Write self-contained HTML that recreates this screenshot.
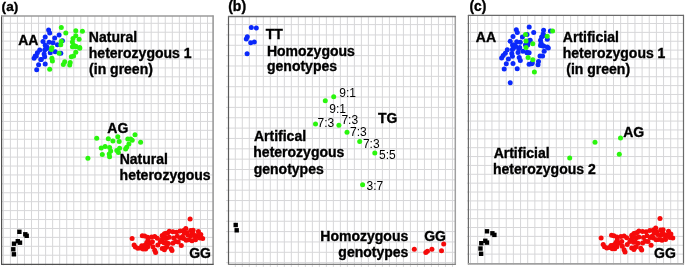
<!DOCTYPE html>
<html><head><meta charset="utf-8"><style>
html,body{margin:0;padding:0;background:#fff;width:685px;height:270px;overflow:hidden;position:relative}
text{font-family:"Liberation Sans",sans-serif}
svg{will-change:transform}
</style></head><body>
<svg width="685" height="270" viewBox="0 0 685 270" style="position:absolute;left:0;top:0">
<rect width="685" height="270" fill="#fff"/>
<g stroke="#d7d7d9" stroke-width="1" fill="none">
<line x1="3.36" y1="16.00" x2="3.36" y2="265.30"/>
<line x1="10.40" y1="16.00" x2="10.40" y2="265.30"/>
<line x1="17.44" y1="16.00" x2="17.44" y2="265.30"/>
<line x1="24.48" y1="16.00" x2="24.48" y2="265.30"/>
<line x1="31.52" y1="16.00" x2="31.52" y2="265.30"/>
<line x1="38.56" y1="16.00" x2="38.56" y2="265.30"/>
<line x1="45.60" y1="16.00" x2="45.60" y2="265.30"/>
<line x1="52.64" y1="16.00" x2="52.64" y2="265.30"/>
<line x1="59.68" y1="16.00" x2="59.68" y2="265.30"/>
<line x1="66.72" y1="16.00" x2="66.72" y2="265.30"/>
<line x1="73.76" y1="16.00" x2="73.76" y2="265.30"/>
<line x1="80.80" y1="16.00" x2="80.80" y2="265.30"/>
<line x1="87.84" y1="16.00" x2="87.84" y2="265.30"/>
<line x1="94.88" y1="16.00" x2="94.88" y2="265.30"/>
<line x1="101.92" y1="16.00" x2="101.92" y2="265.30"/>
<line x1="108.96" y1="16.00" x2="108.96" y2="265.30"/>
<line x1="116.00" y1="16.00" x2="116.00" y2="265.30"/>
<line x1="123.04" y1="16.00" x2="123.04" y2="265.30"/>
<line x1="130.08" y1="16.00" x2="130.08" y2="265.30"/>
<line x1="137.12" y1="16.00" x2="137.12" y2="265.30"/>
<line x1="144.16" y1="16.00" x2="144.16" y2="265.30"/>
<line x1="151.20" y1="16.00" x2="151.20" y2="265.30"/>
<line x1="158.24" y1="16.00" x2="158.24" y2="265.30"/>
<line x1="165.28" y1="16.00" x2="165.28" y2="265.30"/>
<line x1="172.32" y1="16.00" x2="172.32" y2="265.30"/>
<line x1="179.36" y1="16.00" x2="179.36" y2="265.30"/>
<line x1="186.40" y1="16.00" x2="186.40" y2="265.30"/>
<line x1="193.44" y1="16.00" x2="193.44" y2="265.30"/>
<line x1="200.48" y1="16.00" x2="200.48" y2="265.30"/>
<line x1="207.52" y1="16.00" x2="207.52" y2="265.30"/>
<line x1="1.60" y1="23.30" x2="213.10" y2="23.30"/>
<line x1="1.60" y1="32.22" x2="213.10" y2="32.22"/>
<line x1="1.60" y1="41.14" x2="213.10" y2="41.14"/>
<line x1="1.60" y1="50.06" x2="213.10" y2="50.06"/>
<line x1="1.60" y1="58.98" x2="213.10" y2="58.98"/>
<line x1="1.60" y1="67.90" x2="213.10" y2="67.90"/>
<line x1="1.60" y1="76.82" x2="213.10" y2="76.82"/>
<line x1="1.60" y1="85.74" x2="213.10" y2="85.74"/>
<line x1="1.60" y1="94.66" x2="213.10" y2="94.66"/>
<line x1="1.60" y1="103.58" x2="213.10" y2="103.58"/>
<line x1="1.60" y1="112.50" x2="213.10" y2="112.50"/>
<line x1="1.60" y1="121.42" x2="213.10" y2="121.42"/>
<line x1="1.60" y1="130.34" x2="213.10" y2="130.34"/>
<line x1="1.60" y1="139.26" x2="213.10" y2="139.26"/>
<line x1="1.60" y1="148.18" x2="213.10" y2="148.18"/>
<line x1="1.60" y1="157.10" x2="213.10" y2="157.10"/>
<line x1="1.60" y1="166.02" x2="213.10" y2="166.02"/>
<line x1="1.60" y1="174.94" x2="213.10" y2="174.94"/>
<line x1="1.60" y1="183.86" x2="213.10" y2="183.86"/>
<line x1="1.60" y1="192.78" x2="213.10" y2="192.78"/>
<line x1="1.60" y1="201.70" x2="213.10" y2="201.70"/>
<line x1="1.60" y1="210.62" x2="213.10" y2="210.62"/>
<line x1="1.60" y1="219.54" x2="213.10" y2="219.54"/>
<line x1="1.60" y1="228.46" x2="213.10" y2="228.46"/>
<line x1="1.60" y1="237.38" x2="213.10" y2="237.38"/>
<line x1="1.60" y1="246.30" x2="213.10" y2="246.30"/>
<line x1="1.60" y1="255.22" x2="213.10" y2="255.22"/>
</g>
<line x1="1.6" y1="15.5" x2="1.6" y2="264.8" stroke="#505050" stroke-width="1.2"/>
<line x1="213.1" y1="15.5" x2="213.1" y2="264.8" stroke="#9a9a9a" stroke-width="1.6"/>
<line x1="1.1" y1="16.0" x2="213.6" y2="16.0" stroke="#9a9a9a" stroke-width="1.6"/>
<line x1="1.1" y1="264.3" x2="213.6" y2="264.3" stroke="#505050" stroke-width="1.2"/>
<g stroke="#d7d7d9" stroke-width="1" fill="none">
<line x1="235.30" y1="16.50" x2="235.30" y2="266.90"/>
<line x1="242.31" y1="16.50" x2="242.31" y2="266.90"/>
<line x1="249.31" y1="16.50" x2="249.31" y2="266.90"/>
<line x1="256.31" y1="16.50" x2="256.31" y2="266.90"/>
<line x1="263.32" y1="16.50" x2="263.32" y2="266.90"/>
<line x1="270.32" y1="16.50" x2="270.32" y2="266.90"/>
<line x1="277.33" y1="16.50" x2="277.33" y2="266.90"/>
<line x1="284.34" y1="16.50" x2="284.34" y2="266.90"/>
<line x1="291.34" y1="16.50" x2="291.34" y2="266.90"/>
<line x1="298.35" y1="16.50" x2="298.35" y2="266.90"/>
<line x1="305.35" y1="16.50" x2="305.35" y2="266.90"/>
<line x1="312.36" y1="16.50" x2="312.36" y2="266.90"/>
<line x1="319.36" y1="16.50" x2="319.36" y2="266.90"/>
<line x1="326.37" y1="16.50" x2="326.37" y2="266.90"/>
<line x1="333.37" y1="16.50" x2="333.37" y2="266.90"/>
<line x1="340.38" y1="16.50" x2="340.38" y2="266.90"/>
<line x1="347.38" y1="16.50" x2="347.38" y2="266.90"/>
<line x1="354.38" y1="16.50" x2="354.38" y2="266.90"/>
<line x1="361.39" y1="16.50" x2="361.39" y2="266.90"/>
<line x1="368.39" y1="16.50" x2="368.39" y2="266.90"/>
<line x1="375.40" y1="16.50" x2="375.40" y2="266.90"/>
<line x1="382.40" y1="16.50" x2="382.40" y2="266.90"/>
<line x1="389.41" y1="16.50" x2="389.41" y2="266.90"/>
<line x1="396.42" y1="16.50" x2="396.42" y2="266.90"/>
<line x1="403.42" y1="16.50" x2="403.42" y2="266.90"/>
<line x1="410.43" y1="16.50" x2="410.43" y2="266.90"/>
<line x1="417.43" y1="16.50" x2="417.43" y2="266.90"/>
<line x1="424.44" y1="16.50" x2="424.44" y2="266.90"/>
<line x1="431.44" y1="16.50" x2="431.44" y2="266.90"/>
<line x1="438.45" y1="16.50" x2="438.45" y2="266.90"/>
<line x1="445.45" y1="16.50" x2="445.45" y2="266.90"/>
<line x1="452.46" y1="16.50" x2="452.46" y2="266.90"/>
<line x1="226.10" y1="24.60" x2="455.30" y2="24.60"/>
<line x1="226.10" y1="34.95" x2="455.30" y2="34.95"/>
<line x1="226.10" y1="45.30" x2="455.30" y2="45.30"/>
<line x1="226.10" y1="55.65" x2="455.30" y2="55.65"/>
<line x1="226.10" y1="66.00" x2="455.30" y2="66.00"/>
<line x1="226.10" y1="76.35" x2="455.30" y2="76.35"/>
<line x1="226.10" y1="86.70" x2="455.30" y2="86.70"/>
<line x1="226.10" y1="97.05" x2="455.30" y2="97.05"/>
<line x1="226.10" y1="107.40" x2="455.30" y2="107.40"/>
<line x1="226.10" y1="117.75" x2="455.30" y2="117.75"/>
<line x1="226.10" y1="128.10" x2="455.30" y2="128.10"/>
<line x1="226.10" y1="138.45" x2="455.30" y2="138.45"/>
<line x1="226.10" y1="148.80" x2="455.30" y2="148.80"/>
<line x1="226.10" y1="159.15" x2="455.30" y2="159.15"/>
<line x1="226.10" y1="169.50" x2="455.30" y2="169.50"/>
<line x1="226.10" y1="179.85" x2="455.30" y2="179.85"/>
<line x1="226.10" y1="190.20" x2="455.30" y2="190.20"/>
<line x1="226.10" y1="200.55" x2="455.30" y2="200.55"/>
<line x1="226.10" y1="210.90" x2="455.30" y2="210.90"/>
<line x1="226.10" y1="221.25" x2="455.30" y2="221.25"/>
<line x1="226.10" y1="231.60" x2="455.30" y2="231.60"/>
<line x1="226.10" y1="241.95" x2="455.30" y2="241.95"/>
<line x1="226.10" y1="252.30" x2="455.30" y2="252.30"/>
<line x1="226.10" y1="262.65" x2="455.30" y2="262.65"/>
</g>
<line x1="228.5" y1="16.0" x2="228.5" y2="264.9" stroke="#5a5a5a" stroke-width="1.2"/>
<line x1="455.3" y1="16.0" x2="455.3" y2="264.9" stroke="#a0a0a0" stroke-width="1.5"/>
<line x1="228.0" y1="16.5" x2="455.8" y2="16.5" stroke="#707070" stroke-width="1.3"/>
<line x1="228.0" y1="264.4" x2="455.8" y2="264.4" stroke="#808080" stroke-width="1.4"/>
<g stroke="#d7d7d9" stroke-width="1" fill="none">
<line x1="470.50" y1="15.40" x2="470.50" y2="264.40"/>
<line x1="477.65" y1="15.40" x2="477.65" y2="264.40"/>
<line x1="484.80" y1="15.40" x2="484.80" y2="264.40"/>
<line x1="491.95" y1="15.40" x2="491.95" y2="264.40"/>
<line x1="499.10" y1="15.40" x2="499.10" y2="264.40"/>
<line x1="506.25" y1="15.40" x2="506.25" y2="264.40"/>
<line x1="513.40" y1="15.40" x2="513.40" y2="264.40"/>
<line x1="520.55" y1="15.40" x2="520.55" y2="264.40"/>
<line x1="527.70" y1="15.40" x2="527.70" y2="264.40"/>
<line x1="534.85" y1="15.40" x2="534.85" y2="264.40"/>
<line x1="542.00" y1="15.40" x2="542.00" y2="264.40"/>
<line x1="549.15" y1="15.40" x2="549.15" y2="264.40"/>
<line x1="556.30" y1="15.40" x2="556.30" y2="264.40"/>
<line x1="563.45" y1="15.40" x2="563.45" y2="264.40"/>
<line x1="570.60" y1="15.40" x2="570.60" y2="264.40"/>
<line x1="577.75" y1="15.40" x2="577.75" y2="264.40"/>
<line x1="584.90" y1="15.40" x2="584.90" y2="264.40"/>
<line x1="592.05" y1="15.40" x2="592.05" y2="264.40"/>
<line x1="599.20" y1="15.40" x2="599.20" y2="264.40"/>
<line x1="606.35" y1="15.40" x2="606.35" y2="264.40"/>
<line x1="613.50" y1="15.40" x2="613.50" y2="264.40"/>
<line x1="620.65" y1="15.40" x2="620.65" y2="264.40"/>
<line x1="627.80" y1="15.40" x2="627.80" y2="264.40"/>
<line x1="634.95" y1="15.40" x2="634.95" y2="264.40"/>
<line x1="642.10" y1="15.40" x2="642.10" y2="264.40"/>
<line x1="649.25" y1="15.40" x2="649.25" y2="264.40"/>
<line x1="656.40" y1="15.40" x2="656.40" y2="264.40"/>
<line x1="663.55" y1="15.40" x2="663.55" y2="264.40"/>
<line x1="670.70" y1="15.40" x2="670.70" y2="264.40"/>
<line x1="677.85" y1="15.40" x2="677.85" y2="264.40"/>
<line x1="466.90" y1="23.50" x2="683.50" y2="23.50"/>
<line x1="466.90" y1="32.37" x2="683.50" y2="32.37"/>
<line x1="466.90" y1="41.24" x2="683.50" y2="41.24"/>
<line x1="466.90" y1="50.11" x2="683.50" y2="50.11"/>
<line x1="466.90" y1="58.98" x2="683.50" y2="58.98"/>
<line x1="466.90" y1="67.85" x2="683.50" y2="67.85"/>
<line x1="466.90" y1="76.72" x2="683.50" y2="76.72"/>
<line x1="466.90" y1="85.59" x2="683.50" y2="85.59"/>
<line x1="466.90" y1="94.46" x2="683.50" y2="94.46"/>
<line x1="466.90" y1="103.33" x2="683.50" y2="103.33"/>
<line x1="466.90" y1="112.20" x2="683.50" y2="112.20"/>
<line x1="466.90" y1="121.07" x2="683.50" y2="121.07"/>
<line x1="466.90" y1="129.94" x2="683.50" y2="129.94"/>
<line x1="466.90" y1="138.81" x2="683.50" y2="138.81"/>
<line x1="466.90" y1="147.68" x2="683.50" y2="147.68"/>
<line x1="466.90" y1="156.55" x2="683.50" y2="156.55"/>
<line x1="466.90" y1="165.42" x2="683.50" y2="165.42"/>
<line x1="466.90" y1="174.29" x2="683.50" y2="174.29"/>
<line x1="466.90" y1="183.16" x2="683.50" y2="183.16"/>
<line x1="466.90" y1="192.03" x2="683.50" y2="192.03"/>
<line x1="466.90" y1="200.90" x2="683.50" y2="200.90"/>
<line x1="466.90" y1="209.77" x2="683.50" y2="209.77"/>
<line x1="466.90" y1="218.64" x2="683.50" y2="218.64"/>
<line x1="466.90" y1="227.51" x2="683.50" y2="227.51"/>
<line x1="466.90" y1="236.38" x2="683.50" y2="236.38"/>
<line x1="466.90" y1="245.25" x2="683.50" y2="245.25"/>
<line x1="466.90" y1="254.12" x2="683.50" y2="254.12"/>
</g>
<line x1="468.4" y1="14.9" x2="468.4" y2="264.4" stroke="#6a6a6a" stroke-width="1.2"/>
<line x1="683.5" y1="14.9" x2="683.5" y2="264.4" stroke="#6a6a6a" stroke-width="1.2"/>
<line x1="467.9" y1="15.4" x2="684.0" y2="15.4" stroke="#6a6a6a" stroke-width="1.3"/>
<line x1="467.9" y1="263.9" x2="684.0" y2="263.9" stroke="#a0a0a0" stroke-width="1.6"/>
<circle cx="48.6" cy="30.0" r="2.5" fill="#0a28fa"/>
<circle cx="49.7" cy="33.0" r="2.5" fill="#0a28fa"/>
<circle cx="45.2" cy="36.9" r="2.5" fill="#0a28fa"/>
<circle cx="59.1" cy="34.9" r="2.5" fill="#0a28fa"/>
<circle cx="54.7" cy="38.0" r="2.5" fill="#0a28fa"/>
<circle cx="43.0" cy="41.6" r="2.5" fill="#0a28fa"/>
<circle cx="49.1" cy="42.2" r="2.5" fill="#0a28fa"/>
<circle cx="53.0" cy="42.7" r="2.5" fill="#0a28fa"/>
<circle cx="62.4" cy="40.8" r="2.5" fill="#0a28fa"/>
<circle cx="57.4" cy="44.7" r="2.5" fill="#0a28fa"/>
<circle cx="45.2" cy="45.2" r="2.5" fill="#0a28fa"/>
<circle cx="46.9" cy="47.1" r="2.5" fill="#0a28fa"/>
<circle cx="47.4" cy="48.3" r="2.5" fill="#0a28fa"/>
<circle cx="44.7" cy="50.0" r="2.5" fill="#0a28fa"/>
<circle cx="39.7" cy="50.0" r="2.5" fill="#0a28fa"/>
<circle cx="37.4" cy="52.8" r="2.5" fill="#0a28fa"/>
<circle cx="44.1" cy="53.9" r="2.5" fill="#0a28fa"/>
<circle cx="50.2" cy="52.8" r="2.5" fill="#0a28fa"/>
<circle cx="55.2" cy="51.7" r="2.5" fill="#0a28fa"/>
<circle cx="60.8" cy="53.3" r="2.5" fill="#0a28fa"/>
<circle cx="35.2" cy="56.1" r="2.5" fill="#0a28fa"/>
<circle cx="34.1" cy="58.3" r="2.5" fill="#0a28fa"/>
<circle cx="44.7" cy="56.7" r="2.5" fill="#0a28fa"/>
<circle cx="40.8" cy="59.4" r="2.5" fill="#0a28fa"/>
<circle cx="38.6" cy="64.8" r="2.5" fill="#0a28fa"/>
<circle cx="45.2" cy="64.1" r="2.5" fill="#0a28fa"/>
<circle cx="36.7" cy="69.8" r="2.5" fill="#0a28fa"/>
<circle cx="41.3" cy="59.4" r="2.5" fill="#0a28fa"/>
<circle cx="36.3" cy="56.1" r="2.5" fill="#0a28fa"/>
<circle cx="45.8" cy="48.5" r="2.5" fill="#0a28fa"/>
<circle cx="61.3" cy="27.4" r="2.5" fill="#2af50e"/>
<circle cx="65.8" cy="33.0" r="2.5" fill="#2af50e"/>
<circle cx="61.3" cy="41.3" r="2.5" fill="#2af50e"/>
<circle cx="60.8" cy="44.7" r="2.5" fill="#2af50e"/>
<circle cx="75.8" cy="30.8" r="2.5" fill="#2af50e"/>
<circle cx="82.4" cy="31.3" r="2.5" fill="#2af50e"/>
<circle cx="75.8" cy="35.8" r="2.5" fill="#2af50e"/>
<circle cx="73.0" cy="38.6" r="2.5" fill="#2af50e"/>
<circle cx="79.1" cy="39.3" r="2.5" fill="#2af50e"/>
<circle cx="72.4" cy="41.9" r="2.5" fill="#2af50e"/>
<circle cx="73.6" cy="45.2" r="2.5" fill="#2af50e"/>
<circle cx="75.8" cy="46.3" r="2.5" fill="#2af50e"/>
<circle cx="79.7" cy="47.4" r="2.5" fill="#2af50e"/>
<circle cx="51.9" cy="47.8" r="2.5" fill="#2af50e"/>
<circle cx="51.3" cy="49.4" r="2.5" fill="#2af50e"/>
<circle cx="59.1" cy="53.3" r="2.5" fill="#2af50e"/>
<circle cx="51.9" cy="58.3" r="2.5" fill="#2af50e"/>
<circle cx="52.4" cy="61.1" r="2.5" fill="#2af50e"/>
<circle cx="49.7" cy="69.2" r="2.5" fill="#2af50e"/>
<circle cx="64.7" cy="61.7" r="2.5" fill="#2af50e"/>
<circle cx="63.3" cy="64.4" r="2.5" fill="#2af50e"/>
<circle cx="70.2" cy="62.4" r="2.5" fill="#2af50e"/>
<circle cx="69.7" cy="65.1" r="2.5" fill="#2af50e"/>
<circle cx="71.3" cy="56.7" r="2.5" fill="#2af50e"/>
<circle cx="73.6" cy="56.1" r="2.5" fill="#2af50e"/>
<circle cx="75.8" cy="52.2" r="2.5" fill="#2af50e"/>
<circle cx="79.7" cy="48.3" r="2.5" fill="#2af50e"/>
<circle cx="72.4" cy="46.7" r="2.5" fill="#2af50e"/>
<circle cx="75.8" cy="46.7" r="2.5" fill="#2af50e"/>
<circle cx="96.7" cy="138.3" r="2.5" fill="#2af50e"/>
<circle cx="108.3" cy="138.7" r="2.5" fill="#2af50e"/>
<circle cx="117.8" cy="136.7" r="2.5" fill="#2af50e"/>
<circle cx="112.9" cy="141.1" r="2.5" fill="#2af50e"/>
<circle cx="119.2" cy="141.5" r="2.5" fill="#2af50e"/>
<circle cx="101.2" cy="148.0" r="2.5" fill="#2af50e"/>
<circle cx="105.1" cy="146.4" r="2.5" fill="#2af50e"/>
<circle cx="109.6" cy="147.4" r="2.5" fill="#2af50e"/>
<circle cx="110.7" cy="151.1" r="2.5" fill="#2af50e"/>
<circle cx="102.3" cy="154.4" r="2.5" fill="#2af50e"/>
<circle cx="109.6" cy="156.7" r="2.5" fill="#2af50e"/>
<circle cx="109.2" cy="154.0" r="2.5" fill="#2af50e"/>
<circle cx="116.8" cy="150.6" r="2.5" fill="#2af50e"/>
<circle cx="119.6" cy="148.3" r="2.5" fill="#2af50e"/>
<circle cx="118.4" cy="152.4" r="2.5" fill="#2af50e"/>
<circle cx="87.9" cy="158.3" r="2.5" fill="#2af50e"/>
<circle cx="135.0" cy="134.7" r="2.5" fill="#2af50e"/>
<circle cx="127.8" cy="138.9" r="2.5" fill="#2af50e"/>
<circle cx="132.2" cy="140.2" r="2.5" fill="#2af50e"/>
<circle cx="130.6" cy="138.9" r="2.5" fill="#2af50e"/>
<circle cx="140.6" cy="142.2" r="2.5" fill="#2af50e"/>
<circle cx="128.9" cy="143.9" r="2.5" fill="#2af50e"/>
<circle cx="126.7" cy="147.2" r="2.5" fill="#2af50e"/>
<circle cx="125.6" cy="148.9" r="2.5" fill="#2af50e"/>
<rect x="17.2" y="229.6" width="4.4" height="4.4" fill="#000"/>
<rect x="23.1" y="232.1" width="4.4" height="4.4" fill="#000"/>
<rect x="24.5" y="233.6" width="4.4" height="4.4" fill="#000"/>
<rect x="15.6" y="239.0" width="4.4" height="4.4" fill="#000"/>
<rect x="17.8" y="240.5" width="4.4" height="4.4" fill="#000"/>
<rect x="11.8" y="241.5" width="4.4" height="4.4" fill="#000"/>
<rect x="11.1" y="247.1" width="4.4" height="4.4" fill="#000"/>
<rect x="11.7" y="252.1" width="4.4" height="4.4" fill="#000"/>
<circle cx="132.1" cy="238.5" r="2.5" fill="#f50a0a"/>
<circle cx="134.1" cy="245.0" r="2.5" fill="#f50a0a"/>
<circle cx="135.4" cy="247.1" r="2.5" fill="#f50a0a"/>
<circle cx="137.8" cy="248.3" r="2.5" fill="#f50a0a"/>
<circle cx="140.3" cy="247.9" r="2.5" fill="#f50a0a"/>
<circle cx="142.3" cy="235.7" r="2.5" fill="#f50a0a"/>
<circle cx="144.7" cy="236.1" r="2.5" fill="#f50a0a"/>
<circle cx="147.6" cy="237.3" r="2.5" fill="#f50a0a"/>
<circle cx="148.0" cy="240.1" r="2.5" fill="#f50a0a"/>
<circle cx="146.8" cy="242.6" r="2.5" fill="#f50a0a"/>
<circle cx="143.5" cy="245.9" r="2.5" fill="#f50a0a"/>
<circle cx="145.6" cy="249.1" r="2.5" fill="#f50a0a"/>
<circle cx="143.1" cy="249.1" r="2.5" fill="#f50a0a"/>
<circle cx="147.6" cy="247.1" r="2.5" fill="#f50a0a"/>
<circle cx="151.6" cy="236.9" r="2.5" fill="#f50a0a"/>
<circle cx="154.7" cy="236.4" r="2.5" fill="#f50a0a"/>
<circle cx="157.3" cy="238.2" r="2.5" fill="#f50a0a"/>
<circle cx="162.2" cy="235.6" r="2.5" fill="#f50a0a"/>
<circle cx="164.4" cy="233.8" r="2.5" fill="#f50a0a"/>
<circle cx="167.6" cy="232.9" r="2.5" fill="#f50a0a"/>
<circle cx="141.8" cy="245.8" r="2.5" fill="#f50a0a"/>
<circle cx="145.3" cy="244.9" r="2.5" fill="#f50a0a"/>
<circle cx="149.8" cy="243.6" r="2.5" fill="#f50a0a"/>
<circle cx="152.4" cy="241.8" r="2.5" fill="#f50a0a"/>
<circle cx="152.9" cy="246.7" r="2.5" fill="#f50a0a"/>
<circle cx="154.7" cy="250.2" r="2.5" fill="#f50a0a"/>
<circle cx="155.6" cy="252.4" r="2.5" fill="#f50a0a"/>
<circle cx="157.8" cy="244.9" r="2.5" fill="#f50a0a"/>
<circle cx="160.4" cy="241.8" r="2.5" fill="#f50a0a"/>
<circle cx="161.8" cy="239.6" r="2.5" fill="#f50a0a"/>
<circle cx="164.0" cy="242.7" r="2.5" fill="#f50a0a"/>
<circle cx="162.2" cy="248.4" r="2.5" fill="#f50a0a"/>
<circle cx="164.4" cy="249.8" r="2.5" fill="#f50a0a"/>
<circle cx="166.7" cy="247.1" r="2.5" fill="#f50a0a"/>
<circle cx="168.4" cy="243.6" r="2.5" fill="#f50a0a"/>
<circle cx="166.7" cy="238.2" r="2.5" fill="#f50a0a"/>
<circle cx="169.3" cy="237.3" r="2.5" fill="#f50a0a"/>
<circle cx="165.8" cy="233.6" r="2.5" fill="#f50a0a"/>
<circle cx="169.3" cy="231.3" r="2.5" fill="#f50a0a"/>
<circle cx="172.9" cy="231.8" r="2.5" fill="#f50a0a"/>
<circle cx="176.4" cy="232.2" r="2.5" fill="#f50a0a"/>
<circle cx="180.0" cy="230.9" r="2.5" fill="#f50a0a"/>
<circle cx="183.6" cy="230.4" r="2.5" fill="#f50a0a"/>
<circle cx="187.1" cy="232.7" r="2.5" fill="#f50a0a"/>
<circle cx="190.7" cy="230.4" r="2.5" fill="#f50a0a"/>
<circle cx="192.4" cy="233.6" r="2.5" fill="#f50a0a"/>
<circle cx="164.4" cy="238.0" r="2.5" fill="#f50a0a"/>
<circle cx="173.8" cy="238.0" r="2.5" fill="#f50a0a"/>
<circle cx="177.3" cy="236.2" r="2.5" fill="#f50a0a"/>
<circle cx="180.4" cy="238.0" r="2.5" fill="#f50a0a"/>
<circle cx="183.6" cy="238.4" r="2.5" fill="#f50a0a"/>
<circle cx="186.2" cy="240.2" r="2.5" fill="#f50a0a"/>
<circle cx="188.9" cy="239.8" r="2.5" fill="#f50a0a"/>
<circle cx="192.0" cy="240.7" r="2.5" fill="#f50a0a"/>
<circle cx="165.8" cy="242.4" r="2.5" fill="#f50a0a"/>
<circle cx="172.9" cy="243.3" r="2.5" fill="#f50a0a"/>
<circle cx="175.6" cy="241.6" r="2.5" fill="#f50a0a"/>
<circle cx="178.2" cy="242.0" r="2.5" fill="#f50a0a"/>
<circle cx="181.3" cy="245.6" r="2.5" fill="#f50a0a"/>
<circle cx="165.3" cy="247.8" r="2.5" fill="#f50a0a"/>
<circle cx="171.1" cy="248.7" r="2.5" fill="#f50a0a"/>
<circle cx="172.0" cy="250.4" r="2.5" fill="#f50a0a"/>
<circle cx="185.8" cy="228.4" r="2.5" fill="#f50a0a"/>
<circle cx="193.1" cy="230.2" r="2.5" fill="#f50a0a"/>
<circle cx="198.4" cy="231.6" r="2.5" fill="#f50a0a"/>
<circle cx="200.8" cy="234.5" r="2.5" fill="#f50a0a"/>
<circle cx="202.7" cy="238.4" r="2.5" fill="#f50a0a"/>
<circle cx="199.8" cy="237.9" r="2.5" fill="#f50a0a"/>
<circle cx="197.4" cy="235.5" r="2.5" fill="#f50a0a"/>
<circle cx="195.5" cy="237.4" r="2.5" fill="#f50a0a"/>
<circle cx="193.6" cy="234.5" r="2.5" fill="#f50a0a"/>
<circle cx="190.7" cy="236.0" r="2.5" fill="#f50a0a"/>
<circle cx="187.8" cy="235.0" r="2.5" fill="#f50a0a"/>
<circle cx="184.4" cy="233.1" r="2.5" fill="#f50a0a"/>
<circle cx="182.5" cy="236.5" r="2.5" fill="#f50a0a"/>
<circle cx="195.5" cy="239.8" r="2.5" fill="#f50a0a"/>
<circle cx="190.1" cy="219.0" r="2.5" fill="#f50a0a"/>
<circle cx="516.3" cy="29.7" r="2.5" fill="#0a28fa"/>
<circle cx="517.3" cy="32.6" r="2.5" fill="#0a28fa"/>
<circle cx="513.0" cy="36.4" r="2.5" fill="#0a28fa"/>
<circle cx="522.4" cy="37.1" r="2.5" fill="#0a28fa"/>
<circle cx="510.2" cy="41.2" r="2.5" fill="#0a28fa"/>
<circle cx="516.7" cy="41.8" r="2.5" fill="#0a28fa"/>
<circle cx="520.3" cy="42.3" r="2.5" fill="#0a28fa"/>
<circle cx="513.5" cy="44.9" r="2.5" fill="#0a28fa"/>
<circle cx="515.6" cy="46.4" r="2.5" fill="#0a28fa"/>
<circle cx="529.2" cy="27.0" r="2.5" fill="#0a28fa"/>
<circle cx="529.1" cy="40.7" r="2.5" fill="#0a28fa"/>
<circle cx="526.0" cy="44.4" r="2.5" fill="#0a28fa"/>
<circle cx="533.7" cy="32.6" r="2.5" fill="#0a28fa"/>
<circle cx="543.6" cy="30.2" r="2.5" fill="#0a28fa"/>
<circle cx="550.4" cy="30.9" r="2.5" fill="#0a28fa"/>
<circle cx="543.1" cy="34.0" r="2.5" fill="#0a28fa"/>
<circle cx="541.6" cy="37.1" r="2.5" fill="#0a28fa"/>
<circle cx="540.5" cy="40.2" r="2.5" fill="#0a28fa"/>
<circle cx="541.1" cy="43.3" r="2.5" fill="#0a28fa"/>
<circle cx="543.1" cy="45.9" r="2.5" fill="#0a28fa"/>
<circle cx="547.3" cy="39.2" r="2.5" fill="#0a28fa"/>
<circle cx="530.2" cy="40.2" r="2.5" fill="#0a28fa"/>
<circle cx="528.1" cy="43.3" r="2.5" fill="#0a28fa"/>
<circle cx="527.1" cy="44.9" r="2.5" fill="#0a28fa"/>
<circle cx="547.3" cy="46.9" r="2.5" fill="#0a28fa"/>
<circle cx="512.5" cy="45.0" r="2.5" fill="#0a28fa"/>
<circle cx="515.1" cy="45.6" r="2.5" fill="#0a28fa"/>
<circle cx="513.5" cy="48.1" r="2.5" fill="#0a28fa"/>
<circle cx="518.7" cy="48.7" r="2.5" fill="#0a28fa"/>
<circle cx="522.9" cy="51.3" r="2.5" fill="#0a28fa"/>
<circle cx="527.0" cy="52.8" r="2.5" fill="#0a28fa"/>
<circle cx="507.3" cy="49.7" r="2.5" fill="#0a28fa"/>
<circle cx="505.3" cy="53.3" r="2.5" fill="#0a28fa"/>
<circle cx="503.2" cy="55.4" r="2.5" fill="#0a28fa"/>
<circle cx="501.6" cy="58.0" r="2.5" fill="#0a28fa"/>
<circle cx="519.2" cy="57.5" r="2.5" fill="#0a28fa"/>
<circle cx="520.3" cy="60.6" r="2.5" fill="#0a28fa"/>
<circle cx="506.3" cy="63.8" r="2.5" fill="#0a28fa"/>
<circle cx="513.0" cy="63.5" r="2.5" fill="#0a28fa"/>
<circle cx="504.2" cy="69.1" r="2.5" fill="#0a28fa"/>
<circle cx="517.2" cy="68.8" r="2.5" fill="#0a28fa"/>
<circle cx="525.5" cy="45.0" r="2.5" fill="#0a28fa"/>
<circle cx="529.1" cy="64.2" r="2.5" fill="#0a28fa"/>
<circle cx="527.6" cy="45.0" r="2.5" fill="#0a28fa"/>
<circle cx="527.1" cy="52.3" r="2.5" fill="#0a28fa"/>
<circle cx="529.1" cy="52.8" r="2.5" fill="#0a28fa"/>
<circle cx="540.5" cy="45.6" r="2.5" fill="#0a28fa"/>
<circle cx="543.7" cy="46.1" r="2.5" fill="#0a28fa"/>
<circle cx="548.3" cy="48.1" r="2.5" fill="#0a28fa"/>
<circle cx="544.2" cy="51.3" r="2.5" fill="#0a28fa"/>
<circle cx="540.0" cy="55.9" r="2.5" fill="#0a28fa"/>
<circle cx="542.6" cy="55.9" r="2.5" fill="#0a28fa"/>
<circle cx="538.5" cy="61.6" r="2.5" fill="#0a28fa"/>
<circle cx="538.0" cy="64.7" r="2.5" fill="#0a28fa"/>
<circle cx="531.7" cy="63.7" r="2.5" fill="#0a28fa"/>
<circle cx="532.3" cy="62.7" r="2.5" fill="#0a28fa"/>
<circle cx="510.2" cy="82.8" r="2.5" fill="#0a28fa"/>
<circle cx="527.0" cy="34.5" r="2.5" fill="#0a28fa"/>
<circle cx="512.4" cy="49.6" r="2.5" fill="#0a28fa"/>
<circle cx="511.8" cy="53.5" r="2.5" fill="#0a28fa"/>
<circle cx="518.0" cy="52.4" r="2.5" fill="#0a28fa"/>
<circle cx="512.4" cy="56.3" r="2.5" fill="#0a28fa"/>
<circle cx="508.4" cy="59.0" r="2.5" fill="#0a28fa"/>
<circle cx="544.0" cy="35.4" r="2.5" fill="#0a28fa"/>
<circle cx="519.7" cy="47.4" r="2.5" fill="#0a28fa"/>
<circle cx="525.5" cy="34.5" r="2.5" fill="#2af50e"/>
<circle cx="526.0" cy="40.9" r="2.5" fill="#2af50e"/>
<circle cx="552.6" cy="30.9" r="2.5" fill="#2af50e"/>
<circle cx="547.2" cy="36.2" r="2.5" fill="#2af50e"/>
<circle cx="532.8" cy="43.8" r="2.5" fill="#2af50e"/>
<circle cx="526.0" cy="47.6" r="2.5" fill="#2af50e"/>
<circle cx="528.1" cy="57.5" r="2.5" fill="#2af50e"/>
<circle cx="532.8" cy="59.7" r="2.5" fill="#2af50e"/>
<circle cx="534.4" cy="72.0" r="2.5" fill="#2af50e"/>
<circle cx="569.7" cy="158.0" r="2.5" fill="#2af50e"/>
<circle cx="595.0" cy="142.2" r="2.5" fill="#2af50e"/>
<circle cx="620.5" cy="138.0" r="2.5" fill="#2af50e"/>
<circle cx="619.3" cy="154.2" r="2.5" fill="#2af50e"/>
<rect x="484.8" y="229.1" width="4.4" height="4.4" fill="#000"/>
<rect x="490.2" y="231.1" width="4.4" height="4.4" fill="#000"/>
<rect x="492.2" y="232.7" width="4.4" height="4.4" fill="#000"/>
<rect x="483.1" y="238.6" width="4.4" height="4.4" fill="#000"/>
<rect x="484.8" y="240.4" width="4.4" height="4.4" fill="#000"/>
<rect x="479.1" y="241.0" width="4.4" height="4.4" fill="#000"/>
<rect x="478.3" y="246.3" width="4.4" height="4.4" fill="#000"/>
<rect x="478.9" y="251.6" width="4.4" height="4.4" fill="#000"/>
<circle cx="601.1" cy="238.1" r="2.5" fill="#f50a0a"/>
<circle cx="603.2" cy="244.6" r="2.5" fill="#f50a0a"/>
<circle cx="604.5" cy="246.7" r="2.5" fill="#f50a0a"/>
<circle cx="606.9" cy="247.9" r="2.5" fill="#f50a0a"/>
<circle cx="609.5" cy="247.5" r="2.5" fill="#f50a0a"/>
<circle cx="611.5" cy="235.3" r="2.5" fill="#f50a0a"/>
<circle cx="613.9" cy="235.7" r="2.5" fill="#f50a0a"/>
<circle cx="616.9" cy="236.9" r="2.5" fill="#f50a0a"/>
<circle cx="617.3" cy="239.7" r="2.5" fill="#f50a0a"/>
<circle cx="616.1" cy="242.2" r="2.5" fill="#f50a0a"/>
<circle cx="612.7" cy="245.5" r="2.5" fill="#f50a0a"/>
<circle cx="614.8" cy="248.7" r="2.5" fill="#f50a0a"/>
<circle cx="612.3" cy="248.7" r="2.5" fill="#f50a0a"/>
<circle cx="616.9" cy="246.7" r="2.5" fill="#f50a0a"/>
<circle cx="620.9" cy="236.5" r="2.5" fill="#f50a0a"/>
<circle cx="624.1" cy="236.0" r="2.5" fill="#f50a0a"/>
<circle cx="626.7" cy="237.8" r="2.5" fill="#f50a0a"/>
<circle cx="631.7" cy="235.2" r="2.5" fill="#f50a0a"/>
<circle cx="633.9" cy="233.4" r="2.5" fill="#f50a0a"/>
<circle cx="637.2" cy="232.5" r="2.5" fill="#f50a0a"/>
<circle cx="611.0" cy="245.4" r="2.5" fill="#f50a0a"/>
<circle cx="614.5" cy="244.5" r="2.5" fill="#f50a0a"/>
<circle cx="619.1" cy="243.2" r="2.5" fill="#f50a0a"/>
<circle cx="621.8" cy="241.4" r="2.5" fill="#f50a0a"/>
<circle cx="622.3" cy="246.3" r="2.5" fill="#f50a0a"/>
<circle cx="624.1" cy="249.8" r="2.5" fill="#f50a0a"/>
<circle cx="625.0" cy="252.0" r="2.5" fill="#f50a0a"/>
<circle cx="627.2" cy="244.5" r="2.5" fill="#f50a0a"/>
<circle cx="629.9" cy="241.4" r="2.5" fill="#f50a0a"/>
<circle cx="631.3" cy="239.2" r="2.5" fill="#f50a0a"/>
<circle cx="633.5" cy="242.3" r="2.5" fill="#f50a0a"/>
<circle cx="631.7" cy="248.0" r="2.5" fill="#f50a0a"/>
<circle cx="633.9" cy="249.4" r="2.5" fill="#f50a0a"/>
<circle cx="636.3" cy="246.7" r="2.5" fill="#f50a0a"/>
<circle cx="638.0" cy="243.2" r="2.5" fill="#f50a0a"/>
<circle cx="636.3" cy="237.8" r="2.5" fill="#f50a0a"/>
<circle cx="638.9" cy="236.9" r="2.5" fill="#f50a0a"/>
<circle cx="635.4" cy="233.2" r="2.5" fill="#f50a0a"/>
<circle cx="638.9" cy="230.9" r="2.5" fill="#f50a0a"/>
<circle cx="642.6" cy="231.4" r="2.5" fill="#f50a0a"/>
<circle cx="646.1" cy="231.8" r="2.5" fill="#f50a0a"/>
<circle cx="649.8" cy="230.5" r="2.5" fill="#f50a0a"/>
<circle cx="653.4" cy="230.0" r="2.5" fill="#f50a0a"/>
<circle cx="657.0" cy="232.3" r="2.5" fill="#f50a0a"/>
<circle cx="660.7" cy="230.0" r="2.5" fill="#f50a0a"/>
<circle cx="662.4" cy="233.2" r="2.5" fill="#f50a0a"/>
<circle cx="633.9" cy="237.6" r="2.5" fill="#f50a0a"/>
<circle cx="643.5" cy="237.6" r="2.5" fill="#f50a0a"/>
<circle cx="647.0" cy="235.8" r="2.5" fill="#f50a0a"/>
<circle cx="650.2" cy="237.6" r="2.5" fill="#f50a0a"/>
<circle cx="653.4" cy="238.0" r="2.5" fill="#f50a0a"/>
<circle cx="656.1" cy="239.8" r="2.5" fill="#f50a0a"/>
<circle cx="658.8" cy="239.4" r="2.5" fill="#f50a0a"/>
<circle cx="662.0" cy="240.3" r="2.5" fill="#f50a0a"/>
<circle cx="635.4" cy="242.0" r="2.5" fill="#f50a0a"/>
<circle cx="642.6" cy="242.9" r="2.5" fill="#f50a0a"/>
<circle cx="645.3" cy="241.2" r="2.5" fill="#f50a0a"/>
<circle cx="648.0" cy="241.6" r="2.5" fill="#f50a0a"/>
<circle cx="651.1" cy="245.2" r="2.5" fill="#f50a0a"/>
<circle cx="634.9" cy="247.4" r="2.5" fill="#f50a0a"/>
<circle cx="640.7" cy="248.3" r="2.5" fill="#f50a0a"/>
<circle cx="641.7" cy="250.0" r="2.5" fill="#f50a0a"/>
<circle cx="655.7" cy="228.0" r="2.5" fill="#f50a0a"/>
<circle cx="663.1" cy="229.8" r="2.5" fill="#f50a0a"/>
<circle cx="668.5" cy="231.2" r="2.5" fill="#f50a0a"/>
<circle cx="670.9" cy="234.1" r="2.5" fill="#f50a0a"/>
<circle cx="672.8" cy="238.0" r="2.5" fill="#f50a0a"/>
<circle cx="669.9" cy="237.5" r="2.5" fill="#f50a0a"/>
<circle cx="667.5" cy="235.1" r="2.5" fill="#f50a0a"/>
<circle cx="665.5" cy="237.0" r="2.5" fill="#f50a0a"/>
<circle cx="663.6" cy="234.1" r="2.5" fill="#f50a0a"/>
<circle cx="660.7" cy="235.6" r="2.5" fill="#f50a0a"/>
<circle cx="657.7" cy="234.6" r="2.5" fill="#f50a0a"/>
<circle cx="654.3" cy="232.7" r="2.5" fill="#f50a0a"/>
<circle cx="652.3" cy="236.1" r="2.5" fill="#f50a0a"/>
<circle cx="665.5" cy="239.4" r="2.5" fill="#f50a0a"/>
<circle cx="660.0" cy="218.6" r="2.5" fill="#f50a0a"/>
<circle cx="251.3" cy="27.6" r="2.5" fill="#0a28fa"/>
<circle cx="256.3" cy="28.0" r="2.5" fill="#0a28fa"/>
<circle cx="247.3" cy="36.7" r="2.5" fill="#0a28fa"/>
<circle cx="246.3" cy="39.1" r="2.5" fill="#0a28fa"/>
<circle cx="250.7" cy="42.7" r="2.5" fill="#0a28fa"/>
<circle cx="254.3" cy="42.0" r="2.5" fill="#0a28fa"/>
<circle cx="247.1" cy="53.7" r="2.5" fill="#0a28fa"/>
<circle cx="325.3" cy="100.7" r="2.5" fill="#2af50e"/>
<circle cx="333.7" cy="96.7" r="2.5" fill="#2af50e"/>
<circle cx="315.5" cy="124.1" r="2.5" fill="#2af50e"/>
<circle cx="338.9" cy="125.3" r="2.5" fill="#2af50e"/>
<circle cx="347.0" cy="132.2" r="2.5" fill="#2af50e"/>
<circle cx="359.7" cy="141.6" r="2.5" fill="#2af50e"/>
<circle cx="374.8" cy="153.1" r="2.5" fill="#2af50e"/>
<circle cx="362.6" cy="184.8" r="2.5" fill="#2af50e"/>
<rect x="233.5" y="222.8" width="4.4" height="4.4" fill="#000"/>
<rect x="234.5" y="228.1" width="4.4" height="4.4" fill="#000"/>
<circle cx="414.3" cy="249.3" r="2.5" fill="#f50a0a"/>
<circle cx="425.8" cy="252.4" r="2.5" fill="#f50a0a"/>
<circle cx="427.4" cy="251.3" r="2.5" fill="#f50a0a"/>
<circle cx="431.9" cy="249.3" r="2.5" fill="#f50a0a"/>
<circle cx="441.5" cy="250.7" r="2.5" fill="#f50a0a"/>
<circle cx="443.7" cy="244.1" r="2.5" fill="#f50a0a"/>
<text x="1.62" y="10.80" font-family="Liberation Sans" font-weight="bold" font-size="13.6" fill="#000" stroke="#000" stroke-width="0.35" xml:space="preserve">(a)</text>
<text x="228.20" y="10.70" font-family="Liberation Sans" font-weight="bold" font-size="14.0" fill="#000" stroke="#000" stroke-width="0.35" xml:space="preserve">(b)</text>
<text x="469.51" y="10.80" font-family="Liberation Sans" font-weight="bold" font-size="13.8" fill="#000" stroke="#000" stroke-width="0.35" xml:space="preserve">(c)</text>
<text x="18.15" y="45.10" font-family="Liberation Sans" font-weight="bold" font-size="14" fill="#000" stroke="#000" stroke-width="0.35" xml:space="preserve">AA</text>
<text x="88.86" y="42.10" font-family="Liberation Sans" font-weight="bold" font-size="14" fill="#000" stroke="#000" stroke-width="0.35" xml:space="preserve">Natural</text>
<text x="88.82" y="57.70" font-family="Liberation Sans" font-weight="bold" font-size="14" fill="#000" stroke="#000" stroke-width="0.35" xml:space="preserve">heterozygous 1</text>
<text x="89.10" y="74.10" font-family="Liberation Sans" font-weight="bold" font-size="14" fill="#000" stroke="#000" stroke-width="0.35" xml:space="preserve">(in green)</text>
<text x="107.35" y="132.50" font-family="Liberation Sans" font-weight="bold" font-size="14" fill="#000" stroke="#000" stroke-width="0.35" xml:space="preserve">AG</text>
<text x="119.66" y="164.20" font-family="Liberation Sans" font-weight="bold" font-size="14" fill="#000" stroke="#000" stroke-width="0.35" xml:space="preserve">Natural</text>
<text x="119.62" y="180.00" font-family="Liberation Sans" font-weight="bold" font-size="14" fill="#000" stroke="#000" stroke-width="0.35" xml:space="preserve">heterozygous</text>
<text x="189.13" y="257.50" font-family="Liberation Sans" font-weight="bold" font-size="14" fill="#000" stroke="#000" stroke-width="0.35" xml:space="preserve">GG</text>
<text x="265.74" y="38.50" font-family="Liberation Sans" font-weight="bold" font-size="14" fill="#000" stroke="#000" stroke-width="0.35" xml:space="preserve">TT</text>
<text x="266.96" y="55.90" font-family="Liberation Sans" font-weight="bold" font-size="14" fill="#000" stroke="#000" stroke-width="0.35" xml:space="preserve">Homozygous</text>
<text x="267.03" y="71.10" font-family="Liberation Sans" font-weight="bold" font-size="14" fill="#000" stroke="#000" stroke-width="0.35" xml:space="preserve">genotypes</text>
<text x="339.24" y="97.00" font-family="Liberation Sans" font-weight="normal" font-size="12.0" fill="#000" xml:space="preserve">9:1</text>
<text x="329.24" y="112.60" font-family="Liberation Sans" font-weight="normal" font-size="12.0" fill="#000" xml:space="preserve">9:1</text>
<text x="317.48" y="127.10" font-family="Liberation Sans" font-weight="normal" font-size="12.0" fill="#000" xml:space="preserve">7:3</text>
<text x="341.38" y="124.30" font-family="Liberation Sans" font-weight="normal" font-size="12.0" fill="#000" xml:space="preserve">7:3</text>
<text x="349.98" y="136.30" font-family="Liberation Sans" font-weight="normal" font-size="12.0" fill="#000" xml:space="preserve">7:3</text>
<text x="362.88" y="147.60" font-family="Liberation Sans" font-weight="normal" font-size="12.0" fill="#000" xml:space="preserve">7:3</text>
<text x="379.02" y="158.60" font-family="Liberation Sans" font-weight="normal" font-size="12.0" fill="#000" xml:space="preserve">5:5</text>
<text x="366.54" y="190.00" font-family="Liberation Sans" font-weight="normal" font-size="12.0" fill="#000" xml:space="preserve">3:7</text>
<text x="377.94" y="123.20" font-family="Liberation Sans" font-weight="bold" font-size="14" fill="#000" stroke="#000" stroke-width="0.35" xml:space="preserve">TG</text>
<text x="253.95" y="141.10" font-family="Liberation Sans" font-weight="bold" font-size="14" fill="#000" stroke="#000" stroke-width="0.35" xml:space="preserve">Artifical</text>
<text x="253.32" y="157.40" font-family="Liberation Sans" font-weight="bold" font-size="14" fill="#000" stroke="#000" stroke-width="0.35" xml:space="preserve">heterozygous</text>
<text x="253.73" y="173.90" font-family="Liberation Sans" font-weight="bold" font-size="14" fill="#000" stroke="#000" stroke-width="0.35" xml:space="preserve">genotypes</text>
<text x="320.36" y="241.20" font-family="Liberation Sans" font-weight="bold" font-size="14" fill="#000" stroke="#000" stroke-width="0.35" xml:space="preserve">Homozygous</text>
<text x="338.33" y="256.50" font-family="Liberation Sans" font-weight="bold" font-size="14" fill="#000" stroke="#000" stroke-width="0.35" xml:space="preserve">genotypes</text>
<text x="424.13" y="241.20" font-family="Liberation Sans" font-weight="bold" font-size="14" fill="#000" stroke="#000" stroke-width="0.35" xml:space="preserve">GG</text>
<text x="475.85" y="41.50" font-family="Liberation Sans" font-weight="bold" font-size="14" fill="#000" stroke="#000" stroke-width="0.35" xml:space="preserve">AA</text>
<text x="562.85" y="42.10" font-family="Liberation Sans" font-weight="bold" font-size="14" fill="#000" stroke="#000" stroke-width="0.35" xml:space="preserve">Artificial</text>
<text x="562.72" y="57.70" font-family="Liberation Sans" font-weight="bold" font-size="14" fill="#000" stroke="#000" stroke-width="0.35" xml:space="preserve">heterozygous 1</text>
<text x="566.30" y="74.10" font-family="Liberation Sans" font-weight="bold" font-size="14" fill="#000" stroke="#000" stroke-width="0.35" xml:space="preserve">(in green)</text>
<text x="623.15" y="137.00" font-family="Liberation Sans" font-weight="bold" font-size="14" fill="#000" stroke="#000" stroke-width="0.35" xml:space="preserve">AG</text>
<text x="493.65" y="157.60" font-family="Liberation Sans" font-weight="bold" font-size="14" fill="#000" stroke="#000" stroke-width="0.35" xml:space="preserve">Artificial</text>
<text x="493.02" y="173.70" font-family="Liberation Sans" font-weight="bold" font-size="14" fill="#000" stroke="#000" stroke-width="0.35" xml:space="preserve">heterozygous 2</text>
<text x="654.03" y="257.70" font-family="Liberation Sans" font-weight="bold" font-size="14" fill="#000" stroke="#000" stroke-width="0.35" xml:space="preserve">GG</text>
</svg>
</body></html>
